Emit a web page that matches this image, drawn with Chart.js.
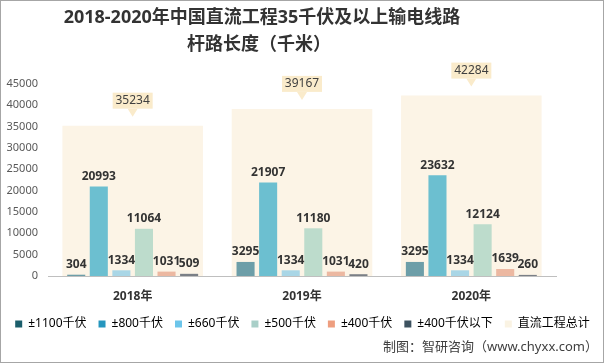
<!DOCTYPE html>
<html>
<head>
<meta charset="utf-8">
<script src="https://cdn.jsdelivr.net/npm/chart.js@4/dist/chart.umd.min.js"></script>
<style>
  html, body { margin: 0; padding: 0; background: #fff; }
  #wrap { width: 605px; height: 364px; position: relative; }
</style>
</head>
<body>
<div id="wrap"><canvas id="chartLineas" width="605" height="364"></canvas></div>
<script>
const YEARS = ["2018年", "2019年", "2020年"];
const KV1100 = [304, 3295, 3295];
const KV800 = [20993, 21907, 23632];
const KV660 = [1334, 1334, 1334];
const KV500 = [11064, 11180, 12124];
const KV400 = [1031, 1031, 1639];
const KV400_MENOS = [509, 420, 260];
const TOTAL = [35234, 39167, 42284];

const SERIES_NAMES = ["±1100千伏", "±800千伏", "±660千伏", "±500千伏", "±400千伏", "±400千伏以下", "直流工程总计"];
const BAR_COLORS = ["#6d9ea8", "#6cbfd0", "#a9d6e6", "#bddccc", "#ecb8a1", "#7a7f86", "#fcf4e6"];
const LEGEND_COLORS = ["#1b5e6b", "#2596be", "#6cc5ea", "#a9cfc8", "#ee9e7f", "#3d5260", "#faf3e3"];

const FONT = "'Noto Sans', 'Noto Sans CJK SC', sans-serif";

// titulo, pie de pagina y borde
const decoracion = {
  id: "decoracion",
  afterDraw(chart) {
    const ctx = chart.ctx;
    ctx.save();
    ctx.fillStyle = "#333";
    ctx.textAlign = "center";
    ctx.textBaseline = "middle";
    ctx.font = "bold 18px " + FONT;
    ctx.fillText("2018-2020年中国直流工程35千伏及以上输电线路", 262, 18);
    ctx.fillText("杆路长度（千米）", 259, 45);
    ctx.font = "13px " + FONT;
    ctx.fillStyle = "#404040";
    ctx.textAlign = "right";
    ctx.fillText("制图：智研咨询（www.chyxx.com）", 598, 347);
    ctx.strokeStyle = "#a6a6a6";
    ctx.lineWidth = 1;
    ctx.strokeRect(0.5, 0.5, 603, 362);
    ctx.restore();
  },
};

// etiquetas de valores
const etiquetas = {
  id: "etiquetas",
  afterDatasetsDraw(chart) {
    const ctx = chart.ctx;
    ctx.save();
    chart.data.datasets.forEach((ds, i) => {
      const meta = chart.getDatasetMeta(i);
      meta.data.forEach((bar, j) => {
        const txt = String(ds.data[j]);
        if (ds.esTotal) {
          const cx = bar.x;
          const bottom = bar.y - 17;
          ctx.fillStyle = "#faebcb";
          ctx.fillRect(cx - 20, bottom - 16, 40, 16);
          ctx.beginPath();
          ctx.moveTo(cx - 5, bottom);
          ctx.lineTo(cx + 5, bottom);
          ctx.lineTo(cx, bottom + 8);
          ctx.closePath();
          ctx.fill();
          ctx.fillStyle = "#404040";
          ctx.font = "12px " + FONT;
          ctx.textAlign = "center";
          ctx.textBaseline = "middle";
          ctx.fillText(txt, cx, bottom - 8);
        } else {
          ctx.fillStyle = "#333";
          ctx.font = "bold 12px " + FONT;
          ctx.textAlign = "center";
          ctx.textBaseline = "bottom";
          ctx.fillText(txt, bar.x, bar.y - 4);
        }
      });
    });
    ctx.restore();
  },
};

const grupos = [KV1100, KV800, KV660, KV500, KV400, KV400_MENOS];
const datasets = grupos.map((serie, i) => ({
  label: SERIES_NAMES[i],
  data: serie,
  backgroundColor: BAR_COLORS[i],
  categoryPercentage: 0.8,
  barPercentage: 0.8,
  order: 0,
}));
datasets.push({
  label: SERIES_NAMES[6],
  data: TOTAL,
  backgroundColor: BAR_COLORS[6],
  grouped: false,
  categoryPercentage: 0.83,
  barPercentage: 1,
  order: 1,
  esTotal: true,
});

new Chart(document.getElementById("chartLineas"), {
  type: "bar",
  data: { labels: YEARS, datasets },
  plugins: [decoracion, etiquetas],
  options: {
    responsive: false,
    animation: false,
    layout: { padding: { top: 84, left: 0, right: 0, bottom: 24 } },
    plugins: {
      title: { display: false },
      tooltip: { enabled: false },
      legend: {
        position: "bottom",
        labels: {
          boxWidth: 7,
          boxHeight: 7,
          padding: 12,
          color: "#404040",
          font: { size: 12, family: FONT },
          generateLabels: (chart) =>
            chart.data.datasets.map((ds, i) => ({
              text: ds.label,
              fillStyle: LEGEND_COLORS[i],
              strokeStyle: LEGEND_COLORS[i],
              lineWidth: 0,
              datasetIndex: i,
            })),
        },
      },
    },
    scales: {
      x: {
        grid: { display: false, drawTicks: false },
        border: { color: "#bfbfbf" },
        afterFit: (scale) => { scale.height = 30; },
        ticks: { color: "#333", font: { size: 12, weight: "bold", family: FONT }, padding: 13 },
      },
      y: {
        min: 0,
        max: 45000,
        grid: { display: false, drawTicks: false },
        border: { display: false },
        afterFit: (scale) => { scale.width = 48; },
        ticks: {
          stepSize: 5000,
          color: "#595959",
          font: { size: 11, family: FONT },
          padding: 10,
          callback: (v) => String(v),
        },
      },
      yDer: {
        position: "right",
        display: true,
        grid: { display: false, drawTicks: false },
        border: { display: false },
        ticks: { display: false },
        afterFit: (scale) => { scale.width = 49; },
      },
    },
  },
});
</script>
</body>
</html>
